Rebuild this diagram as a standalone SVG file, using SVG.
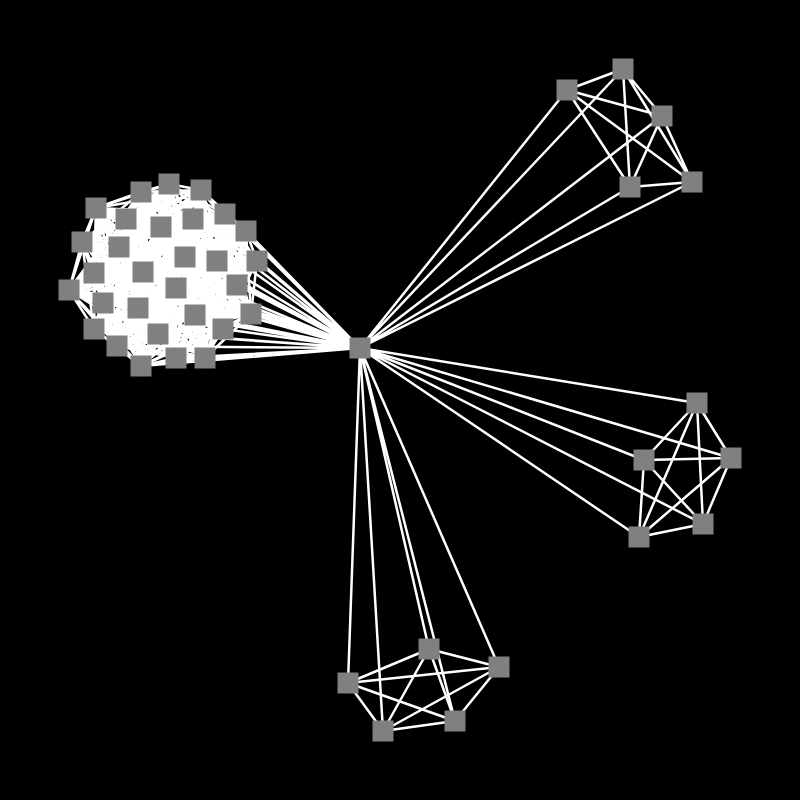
<svg xmlns="http://www.w3.org/2000/svg" xmlns:xlink="http://www.w3.org/1999/xlink" width="800" height="800" viewBox="0 0 800 800">
<style>
.e{fill:none;stroke:#fff;stroke-width:2.5;stroke-linejoin:round;stroke-linecap:butt}
.n{fill:#808080}
</style>
<defs><rect id="sq" class="n" x="-10.5" y="-10.5" width="21" height="21"/></defs>
<rect width="800" height="800" fill="#000"/>
<g id="connectors">
<g id="edges-center">
<path class="e" d="M360 348 141 192 360 348 169 184 360 348 201 190 360 348 96 208 360 348 126 219 360 348 193 219 360 348 161 227 360 348 225 214 360 348 246 231 360 348 82 242 360 348 119 247 360 348 185 257 360 348 217 261 360 348 257 261 360 348 94 273 360 348 143 272 360 348 69 290 360 348 176 288 360 348 237 285 360 348 103 303 360 348 138 308 360 348 195 315 360 348 251 314 360 348 94 329 360 348 158 334 360 348 223 329 360 348 117 346 360 348 176 358 360 348 205 358 360 348 141 366"/>
<path class="e" d="M360 348 567 90 360 348 623 69 360 348 662 116 360 348 630 187 360 348 692 182"/>
<path class="e" d="M360 348 697 403 360 348 731 458 360 348 644 460 360 348 703 524 360 348 639 537"/>
<path class="e" d="M360 348 429 649 360 348 499 667 360 348 348 683 360 348 455 721 360 348 383 731"/>
</g>
<g id="edges-cluster-a">
<path class="e" d="M141 192 169 184 141 192 201 190 141 192 96 208 141 192 126 219 141 192 193 219 141 192 161 227 141 192 225 214 141 192 246 231 141 192 82 242 141 192 119 247 141 192 185 257 141 192 217 261 141 192 257 261 141 192 94 273 141 192 143 272 141 192 69 290 141 192 176 288 141 192 237 285 141 192 103 303 141 192 138 308 141 192 195 315 141 192 251 314 141 192 94 329 141 192 158 334 141 192 223 329 141 192 117 346 141 192 176 358 141 192 205 358 141 192 141 366"/>
<path class="e" d="M169 184 201 190 169 184 96 208 169 184 126 219 169 184 193 219 169 184 161 227 169 184 225 214 169 184 246 231 169 184 82 242 169 184 119 247 169 184 185 257 169 184 217 261 169 184 257 261 169 184 94 273 169 184 143 272 169 184 69 290 169 184 176 288 169 184 237 285 169 184 103 303 169 184 138 308 169 184 195 315 169 184 251 314 169 184 94 329 169 184 158 334 169 184 223 329 169 184 117 346 169 184 176 358 169 184 205 358 169 184 141 366"/>
<path class="e" d="M201 190 96 208 201 190 126 219 201 190 193 219 201 190 161 227 201 190 225 214 201 190 246 231 201 190 82 242 201 190 119 247 201 190 185 257 201 190 217 261 201 190 257 261 201 190 94 273 201 190 143 272 201 190 69 290 201 190 176 288 201 190 237 285 201 190 103 303 201 190 138 308 201 190 195 315 201 190 251 314 201 190 94 329 201 190 158 334 201 190 223 329 201 190 117 346 201 190 176 358 201 190 205 358 201 190 141 366"/>
<path class="e" d="M96 208 126 219 96 208 193 219 96 208 161 227 96 208 225 214 96 208 246 231 96 208 82 242 96 208 119 247 96 208 185 257 96 208 217 261 96 208 257 261 96 208 94 273 96 208 143 272 96 208 69 290 96 208 176 288 96 208 237 285 96 208 103 303 96 208 138 308 96 208 195 315 96 208 251 314 96 208 94 329 96 208 158 334 96 208 223 329 96 208 117 346 96 208 176 358 96 208 205 358 96 208 141 366"/>
<path class="e" d="M126 219 193 219 126 219 161 227 126 219 225 214 126 219 246 231 126 219 82 242 126 219 119 247 126 219 185 257 126 219 217 261 126 219 257 261 126 219 94 273 126 219 143 272 126 219 69 290 126 219 176 288 126 219 237 285 126 219 103 303 126 219 138 308 126 219 195 315 126 219 251 314 126 219 94 329 126 219 158 334 126 219 223 329 126 219 117 346 126 219 176 358 126 219 205 358 126 219 141 366"/>
<path class="e" d="M193 219 161 227 193 219 225 214 193 219 246 231 193 219 82 242 193 219 119 247 193 219 185 257 193 219 217 261 193 219 257 261 193 219 94 273 193 219 143 272 193 219 69 290 193 219 176 288 193 219 237 285 193 219 103 303 193 219 138 308 193 219 195 315 193 219 251 314 193 219 94 329 193 219 158 334 193 219 223 329 193 219 117 346 193 219 176 358 193 219 205 358 193 219 141 366"/>
<path class="e" d="M161 227 225 214 161 227 246 231 161 227 82 242 161 227 119 247 161 227 185 257 161 227 217 261 161 227 257 261 161 227 94 273 161 227 143 272 161 227 69 290 161 227 176 288 161 227 237 285 161 227 103 303 161 227 138 308 161 227 195 315 161 227 251 314 161 227 94 329 161 227 158 334 161 227 223 329 161 227 117 346 161 227 176 358 161 227 205 358 161 227 141 366"/>
<path class="e" d="M225 214 246 231 225 214 82 242 225 214 119 247 225 214 185 257 225 214 217 261 225 214 257 261 225 214 94 273 225 214 143 272 225 214 69 290 225 214 176 288 225 214 237 285 225 214 103 303 225 214 138 308 225 214 195 315 225 214 251 314 225 214 94 329 225 214 158 334 225 214 223 329 225 214 117 346 225 214 176 358 225 214 205 358 225 214 141 366"/>
<path class="e" d="M246 231 82 242 246 231 119 247 246 231 185 257 246 231 217 261 246 231 257 261 246 231 94 273 246 231 143 272 246 231 69 290 246 231 176 288 246 231 237 285 246 231 103 303 246 231 138 308 246 231 195 315 246 231 251 314 246 231 94 329 246 231 158 334 246 231 223 329 246 231 117 346 246 231 176 358 246 231 205 358 246 231 141 366"/>
<path class="e" d="M82 242 119 247 82 242 185 257 82 242 217 261 82 242 257 261 82 242 94 273 82 242 143 272 82 242 69 290 82 242 176 288 82 242 237 285 82 242 103 303 82 242 138 308 82 242 195 315 82 242 251 314 82 242 94 329 82 242 158 334 82 242 223 329 82 242 117 346 82 242 176 358 82 242 205 358 82 242 141 366"/>
<path class="e" d="M119 247 185 257 119 247 217 261 119 247 257 261 119 247 94 273 119 247 143 272 119 247 69 290 119 247 176 288 119 247 237 285 119 247 103 303 119 247 138 308 119 247 195 315 119 247 251 314 119 247 94 329 119 247 158 334 119 247 223 329 119 247 117 346 119 247 176 358 119 247 205 358 119 247 141 366"/>
<path class="e" d="M185 257 217 261 185 257 257 261 185 257 94 273 185 257 143 272 185 257 69 290 185 257 176 288 185 257 237 285 185 257 103 303 185 257 138 308 185 257 195 315 185 257 251 314 185 257 94 329 185 257 158 334 185 257 223 329 185 257 117 346 185 257 176 358 185 257 205 358 185 257 141 366"/>
<path class="e" d="M217 261 257 261 217 261 94 273 217 261 143 272 217 261 69 290 217 261 176 288 217 261 237 285 217 261 103 303 217 261 138 308 217 261 195 315 217 261 251 314 217 261 94 329 217 261 158 334 217 261 223 329 217 261 117 346 217 261 176 358 217 261 205 358 217 261 141 366"/>
<path class="e" d="M257 261 94 273 257 261 143 272 257 261 69 290 257 261 176 288 257 261 237 285 257 261 103 303 257 261 138 308 257 261 195 315 257 261 251 314 257 261 94 329 257 261 158 334 257 261 223 329 257 261 117 346 257 261 176 358 257 261 205 358 257 261 141 366"/>
<path class="e" d="M94 273 143 272 94 273 69 290 94 273 176 288 94 273 237 285 94 273 103 303 94 273 138 308 94 273 195 315 94 273 251 314 94 273 94 329 94 273 158 334 94 273 223 329 94 273 117 346 94 273 176 358 94 273 205 358 94 273 141 366"/>
<path class="e" d="M143 272 69 290 143 272 176 288 143 272 237 285 143 272 103 303 143 272 138 308 143 272 195 315 143 272 251 314 143 272 94 329 143 272 158 334 143 272 223 329 143 272 117 346 143 272 176 358 143 272 205 358 143 272 141 366"/>
<path class="e" d="M69 290 176 288 69 290 237 285 69 290 103 303 69 290 138 308 69 290 195 315 69 290 251 314 69 290 94 329 69 290 158 334 69 290 223 329 69 290 117 346 69 290 176 358 69 290 205 358 69 290 141 366"/>
<path class="e" d="M176 288 237 285 176 288 103 303 176 288 138 308 176 288 195 315 176 288 251 314 176 288 94 329 176 288 158 334 176 288 223 329 176 288 117 346 176 288 176 358 176 288 205 358 176 288 141 366"/>
<path class="e" d="M237 285 103 303 237 285 138 308 237 285 195 315 237 285 251 314 237 285 94 329 237 285 158 334 237 285 223 329 237 285 117 346 237 285 176 358 237 285 205 358 237 285 141 366"/>
<path class="e" d="M103 303 138 308 103 303 195 315 103 303 251 314 103 303 94 329 103 303 158 334 103 303 223 329 103 303 117 346 103 303 176 358 103 303 205 358 103 303 141 366"/>
<path class="e" d="M138 308 195 315 138 308 251 314 138 308 94 329 138 308 158 334 138 308 223 329 138 308 117 346 138 308 176 358 138 308 205 358 138 308 141 366"/>
<path class="e" d="M195 315 251 314 195 315 94 329 195 315 158 334 195 315 223 329 195 315 117 346 195 315 176 358 195 315 205 358 195 315 141 366"/>
<path class="e" d="M251 314 94 329 251 314 158 334 251 314 223 329 251 314 117 346 251 314 176 358 251 314 205 358 251 314 141 366"/>
<path class="e" d="M94 329 158 334 94 329 223 329 94 329 117 346 94 329 176 358 94 329 205 358 94 329 141 366"/>
<path class="e" d="M158 334 223 329 158 334 117 346 158 334 176 358 158 334 205 358 158 334 141 366"/>
<path class="e" d="M223 329 117 346 223 329 176 358 223 329 205 358 223 329 141 366"/>
<path class="e" d="M117 346 176 358 117 346 205 358 117 346 141 366"/>
<path class="e" d="M176 358 205 358 176 358 141 366"/>
<path class="e" d="M205 358 141 366"/>
</g>
<g id="edges-cluster-b">
<path class="e" d="M567 90 623 69 567 90 662 116 567 90 630 187 567 90 692 182 M623 69 662 116 623 69 630 187 623 69 692 182 M662 116 630 187 662 116 692 182 M630 187 692 182"/>
</g>
<g id="edges-cluster-c">
<path class="e" d="M697 403 731 458 697 403 644 460 697 403 703 524 697 403 639 537 M731 458 644 460 731 458 703 524 731 458 639 537 M644 460 703 524 644 460 639 537 M703 524 639 537"/>
</g>
<g id="edges-cluster-d">
<path class="e" d="M429 649 499 667 429 649 348 683 429 649 455 721 429 649 383 731 M499 667 348 683 499 667 455 721 499 667 383 731 M348 683 455 721 348 683 383 731 M455 721 383 731"/>
</g>
</g>
<g id="nodes">
<g id="n0"><use xlink:href="#sq" x="360" y="348"/></g>
<g id="a1"><use xlink:href="#sq" x="141" y="192"/></g>
<g id="a2"><use xlink:href="#sq" x="169" y="184"/></g>
<g id="a3"><use xlink:href="#sq" x="201" y="190"/></g>
<g id="a4"><use xlink:href="#sq" x="96" y="208"/></g>
<g id="a5"><use xlink:href="#sq" x="126" y="219"/></g>
<g id="a6"><use xlink:href="#sq" x="193" y="219"/></g>
<g id="a7"><use xlink:href="#sq" x="161" y="227"/></g>
<g id="a8"><use xlink:href="#sq" x="225" y="214"/></g>
<g id="a9"><use xlink:href="#sq" x="246" y="231"/></g>
<g id="a10"><use xlink:href="#sq" x="82" y="242"/></g>
<g id="a11"><use xlink:href="#sq" x="119" y="247"/></g>
<g id="a12"><use xlink:href="#sq" x="185" y="257"/></g>
<g id="a13"><use xlink:href="#sq" x="217" y="261"/></g>
<g id="a14"><use xlink:href="#sq" x="257" y="261"/></g>
<g id="a15"><use xlink:href="#sq" x="94" y="273"/></g>
<g id="a16"><use xlink:href="#sq" x="143" y="272"/></g>
<g id="a17"><use xlink:href="#sq" x="69" y="290"/></g>
<g id="a18"><use xlink:href="#sq" x="176" y="288"/></g>
<g id="a19"><use xlink:href="#sq" x="237" y="285"/></g>
<g id="a20"><use xlink:href="#sq" x="103" y="303"/></g>
<g id="a21"><use xlink:href="#sq" x="138" y="308"/></g>
<g id="a22"><use xlink:href="#sq" x="195" y="315"/></g>
<g id="a23"><use xlink:href="#sq" x="251" y="314"/></g>
<g id="a24"><use xlink:href="#sq" x="94" y="329"/></g>
<g id="a25"><use xlink:href="#sq" x="158" y="334"/></g>
<g id="a26"><use xlink:href="#sq" x="223" y="329"/></g>
<g id="a27"><use xlink:href="#sq" x="117" y="346"/></g>
<g id="a28"><use xlink:href="#sq" x="176" y="358"/></g>
<g id="a29"><use xlink:href="#sq" x="205" y="358"/></g>
<g id="a30"><use xlink:href="#sq" x="141" y="366"/></g>
<g id="b1"><use xlink:href="#sq" x="567" y="90"/></g>
<g id="b2"><use xlink:href="#sq" x="623" y="69"/></g>
<g id="b3"><use xlink:href="#sq" x="662" y="116"/></g>
<g id="b4"><use xlink:href="#sq" x="630" y="187"/></g>
<g id="b5"><use xlink:href="#sq" x="692" y="182"/></g>
<g id="c1"><use xlink:href="#sq" x="697" y="403"/></g>
<g id="c2"><use xlink:href="#sq" x="731" y="458"/></g>
<g id="c3"><use xlink:href="#sq" x="644" y="460"/></g>
<g id="c4"><use xlink:href="#sq" x="703" y="524"/></g>
<g id="c5"><use xlink:href="#sq" x="639" y="537"/></g>
<g id="d1"><use xlink:href="#sq" x="429" y="649"/></g>
<g id="d2"><use xlink:href="#sq" x="499" y="667"/></g>
<g id="d3"><use xlink:href="#sq" x="348" y="683"/></g>
<g id="d4"><use xlink:href="#sq" x="455" y="721"/></g>
<g id="d5"><use xlink:href="#sq" x="383" y="731"/></g>
</g>
</svg>
